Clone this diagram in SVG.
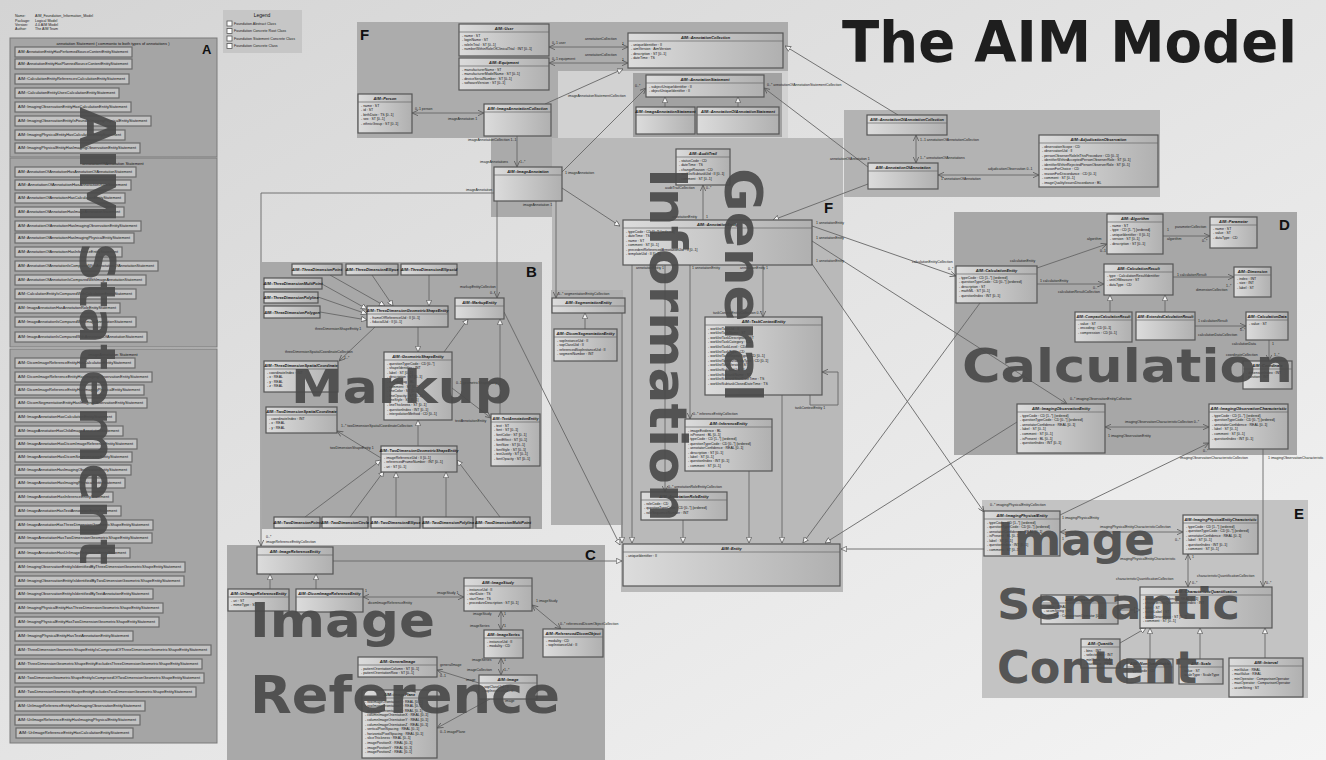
<svg xmlns="http://www.w3.org/2000/svg" width="1326" height="760" viewBox="0 0 1326 760">
<defs>
<linearGradient id="bgg" x1="0" y1="0" x2="1" y2="1"><stop offset="0" stop-color="#d4d4d4"/><stop offset="1" stop-color="#f4f4f4"/></linearGradient>
<linearGradient id="ng" x1="0" y1="0" x2="1" y2="0"><stop offset="0" stop-color="#dcdcdc"/><stop offset="1" stop-color="#b0b0b0"/></linearGradient>
<marker id="gen" viewBox="0 0 10 10" refX="10" refY="5" markerWidth="6" markerHeight="6" markerUnits="userSpaceOnUse" orient="auto-start-reverse"><path d="M0.5,0.5 L10,5 L0.5,9.5 Z" fill="#f4f4f4" stroke="#555" stroke-width="1.2"/></marker>
<marker id="arr" viewBox="0 0 10 10" refX="10" refY="5" markerWidth="6" markerHeight="6" markerUnits="userSpaceOnUse" orient="auto-start-reverse"><path d="M0,0.5 L10,5 L0,9.5" fill="none" stroke="#555" stroke-width="1.3"/></marker>
<style>
.hd{font-family:"Liberation Sans",Arial,sans-serif;font-size:3.6px;fill:#222}
.pk{stroke:#7a7a7a;stroke-width:1}
.n rect{fill:url(#ng);stroke:#555;stroke-width:1.2}
.n line{stroke:#666;stroke-width:0.7}
.nt{font-family:"Liberation Sans",Arial,sans-serif;font-size:3.9px;font-weight:bold;font-style:italic;text-anchor:middle;fill:#111}
.na{font-family:"Liberation Sans",Arial,sans-serif;font-size:3.5px;fill:#111}
.it rect{fill:#c3c3c3;stroke:#6a6a6a;stroke-width:1.2}
.it text{font-family:"Liberation Sans",Arial,sans-serif;font-size:3.5px;fill:#111}
.pt{font-family:"Liberation Sans",Arial,sans-serif;font-size:4px;fill:#111;text-anchor:middle}
.pl{font-family:"Liberation Sans",Arial,sans-serif;font-weight:bold;font-size:15px;fill:#111}
.c path{fill:none;stroke:#666;stroke-width:0.9}
.lb{font-family:"Liberation Sans",Arial,sans-serif;font-size:3.5px;fill:#222}
.big{font-family:"DejaVu Sans","Liberation Sans",sans-serif;font-weight:bold;fill:#4a4a4a;fill-opacity:0.92}
</style>
</defs>
<rect x="0" y="0" width="1326" height="760" fill="url(#bgg)"/>

<g id="header">
<text class="hd" x="15" y="17">Name:</text><text class="hd" x="35" y="17">AIM_Foundation_Information_Model</text>
<text class="hd" x="15" y="21.5">Package:</text><text class="hd" x="35" y="21.5">Logical Model</text>
<text class="hd" x="15" y="25.5">Version:</text><text class="hd" x="35" y="25.5">4.0 AIM Model</text>
<text class="hd" x="15" y="29.5">Author:</text><text class="hd" x="35" y="29.5">The AIM Team</text>
</g>

<g id="legend">
<rect x="223" y="10" width="79" height="43" fill="#c6c6c6"/>
<text class="pt" x="262" y="17" style="font-size:5px">Legend</text>
<rect x="227" y="21" width="5" height="5" fill="#fff" stroke="#555" stroke-width="0.8"/><text class="hd" x="234" y="24.5">Foundation Abstract Class</text>
<rect x="227" y="28.5" width="5" height="5" fill="#fff" stroke="#555" stroke-width="0.8"/><text class="hd" x="234" y="32">Foundation Concrete Root Class</text>
<rect x="227" y="36" width="5" height="5" fill="#fff" stroke="#555" stroke-width="0.8"/><text class="hd" x="234" y="39.5">Foundation Statement Concrete Class</text>
<rect x="227" y="43.5" width="5" height="5" fill="#fff" stroke="#555" stroke-width="0.8"/><text class="hd" x="234" y="47">Foundation Concrete Class</text>
</g>

<g id="packages">
<rect class="pk" x="10" y="38" width="207" height="119" fill="#a5a5a5" stroke-width="1.5"/>
<rect class="pk" x="10" y="158" width="207" height="189" fill="#a5a5a5" stroke-width="1.5"/>
<rect class="pk" x="10" y="349" width="207" height="394" fill="#a5a5a5" stroke-width="1.5"/>
<rect x="357" y="22" width="431" height="116" fill="#acacac"/>
<rect x="558" y="71" width="230" height="67" fill="#d2d2d2"/>
<rect x="633" y="73" width="149" height="64" fill="#a2a2a2"/>
<rect x="844" y="110" width="316" height="87" fill="#b3b3b3"/>
<path d="M552,138 H843 V592 H621 V525 H552 Z" fill="#b9b9b9"/>
<rect x="491" y="138" width="61" height="79" fill="#aaaaaa"/>
<rect x="551" y="290" width="72" height="235" fill="#b0b0b0"/>
<rect x="262" y="262" width="280" height="267" fill="#a8a8a8"/>
<rect x="227" y="545" width="378" height="215" fill="#a9a9a9"/>
<rect x="954" y="212" width="343" height="243" fill="#a7a7a7"/>
<rect x="982" y="500" width="326" height="198" fill="#c3c3c3"/>
</g>

<g id="package-labels">
<text class="pt" x="113" y="44.5">annotation Statement ( commonto to both types of annotations )</text>
<text class="pt" x="113" y="164.5">annotationOfAnnotation Statement</text>
<text class="pt" x="113" y="355.5">imageAnnotation Statement</text>
<text class="pl" x="202" y="54" style="font-size:13px">A</text>
<text class="pl" x="360" y="40">F</text>
<text class="pl" x="768" y="134" style="font-size:13px">A</text>
<text class="pl" x="824" y="213">F</text>
<text class="pl" x="526" y="277">B</text>
<text class="pl" x="585" y="560">C</text>
<text class="pl" x="1279" y="230">D</text>
<text class="pl" x="1294" y="519">E</text>
</g>

<g id="stmt-annotation" class="it">
<rect x="15" y="47" width="117" height="10"/><text x="18" y="53.3" textLength="110" lengthAdjust="spacingAndGlyphs">AIM::AnnotationEntityHasPerformedSourceContentEntityStatement</text>
<rect x="15" y="59" width="117" height="10"/><text x="18" y="65.3" textLength="110" lengthAdjust="spacingAndGlyphs">AIM::AnnotationEntityHasPlannedSourceContentEntityStatement</text>
<rect x="15" y="74" width="114" height="10"/><text x="18" y="80.3" textLength="107" lengthAdjust="spacingAndGlyphs">AIM::CalculationEntityReferencesCalculationEntityStatement</text>
<rect x="15" y="88" width="104" height="10"/><text x="18" y="94.3" textLength="97" lengthAdjust="spacingAndGlyphs">AIM::CalculationEntityUsesCalculationEntityStatement</text>
<rect x="15" y="102" width="116" height="10"/><text x="18" y="108.3" textLength="109" lengthAdjust="spacingAndGlyphs">AIM::ImagingObservationEntityHasCalculationEntityStatement</text>
<rect x="15" y="116" width="136" height="10"/><text x="18" y="122.3" textLength="129" lengthAdjust="spacingAndGlyphs">AIM::ImagingObservationEntityIsFoundInImagingPhysicalEntityStatement</text>
<rect x="15" y="130" width="110" height="10"/><text x="18" y="136.3" textLength="103" lengthAdjust="spacingAndGlyphs">AIM::ImagingPhysicalEntityHasCalculationEntityStatement</text>
<rect x="15" y="143" width="125" height="10"/><text x="18" y="149.3" textLength="118" lengthAdjust="spacingAndGlyphs">AIM::ImagingPhysicalEntityHasImagingObservationEntityStatement</text>
</g>

<g id="stmt-aoa" class="it">
<rect x="15" y="167" width="121" height="10"/><text x="18" y="173.3" textLength="114" lengthAdjust="spacingAndGlyphs">AIM::AnnotationOfAnnotationHasAnnotationOfAnnotationStatement</text>
<rect x="15" y="180" width="116" height="10"/><text x="18" y="186.3" textLength="109" lengthAdjust="spacingAndGlyphs">AIM::AnnotationOfAnnotationHasAnnotationRoleStatement</text>
<rect x="15" y="193" width="110" height="10"/><text x="18" y="199.3" textLength="103" lengthAdjust="spacingAndGlyphs">AIM::AnnotationOfAnnotationHasCalculationEntityStatement</text>
<rect x="15" y="207" width="109" height="10"/><text x="18" y="213.3" textLength="102" lengthAdjust="spacingAndGlyphs">AIM::AnnotationOfAnnotationHasImageAnnotationStatement</text>
<rect x="15" y="221" width="126" height="10"/><text x="18" y="227.3" textLength="119" lengthAdjust="spacingAndGlyphs">AIM::AnnotationOfAnnotationHasImagingObservationEntityStatement</text>
<rect x="15" y="233" width="119" height="10"/><text x="18" y="239.3" textLength="112" lengthAdjust="spacingAndGlyphs">AIM::AnnotationOfAnnotationHasImagingPhysicalEntityStatement</text>
<rect x="15" y="247" width="107" height="10"/><text x="18" y="253.3" textLength="100" lengthAdjust="spacingAndGlyphs">AIM::AnnotationOfAnnotationHasInferenceEntityStatement</text>
<rect x="15" y="261" width="143" height="10"/><text x="18" y="267.3" textLength="136" lengthAdjust="spacingAndGlyphs">AIM::AnnotationOfAnnotationIsComparedWithAnnotationOfAnnotationStatement</text>
<rect x="15" y="275" width="131" height="10"/><text x="18" y="281.3" textLength="124" lengthAdjust="spacingAndGlyphs">AIM::AnnotationOfAnnotationIsComparedWithImageAnnotationStatement</text>
<rect x="15" y="289" width="121" height="10"/><text x="18" y="295.3" textLength="114" lengthAdjust="spacingAndGlyphs">AIM::CalculationEntityIsComparedWithCalculationEntityStatement</text>
<rect x="15" y="303" width="105" height="10"/><text x="18" y="309.3" textLength="98" lengthAdjust="spacingAndGlyphs">AIM::ImageAnnotationHasAnnotationRoleEntityStatement</text>
<rect x="15" y="317" width="121" height="10"/><text x="18" y="323.3" textLength="114" lengthAdjust="spacingAndGlyphs">AIM::ImageAnnotationIsComparedWithImageAnnotationStatement</text>
<rect x="15" y="332" width="132" height="10"/><text x="18" y="338.3" textLength="125" lengthAdjust="spacingAndGlyphs">AIM::ImageAnnotationIsComparedWithAnnotationOfAnnotationStatement</text>
</g>

<g id="stmt-image" class="it">
<rect x="15" y="358" width="120" height="10"/><text x="18" y="364.3" textLength="113" lengthAdjust="spacingAndGlyphs">AIM::DicomImageReferenceEntityHasCalculationEntityStatement</text>
<rect x="15" y="372" width="137" height="10"/><text x="18" y="378.3" textLength="130" lengthAdjust="spacingAndGlyphs">AIM::DicomImageReferenceEntityHasImagingObservationEntityStatement</text>
<rect x="15" y="385" width="129" height="10"/><text x="18" y="391.3" textLength="122" lengthAdjust="spacingAndGlyphs">AIM::DicomImageReferenceEntityHasImagingPhysicalEntityStatement</text>
<rect x="15" y="398" width="132" height="10"/><text x="18" y="404.3" textLength="125" lengthAdjust="spacingAndGlyphs">AIM::DicomSegmentationEntityHasImagingObservationEntityStatement</text>
<rect x="15" y="412" width="101" height="10"/><text x="18" y="418.3" textLength="94" lengthAdjust="spacingAndGlyphs">AIM::ImageAnnotationHasCalculationEntityStatement</text>
<rect x="15" y="426" width="108" height="10"/><text x="18" y="432.3" textLength="101" lengthAdjust="spacingAndGlyphs">AIM::ImageAnnotationHasChildImageAnnotationStatement</text>
<rect x="15" y="439" width="122" height="10"/><text x="18" y="445.3" textLength="115" lengthAdjust="spacingAndGlyphs">AIM::ImageAnnotationHasDicomImageReferenceEntityStatement</text>
<rect x="15" y="452" width="117" height="10"/><text x="18" y="458.3" textLength="110" lengthAdjust="spacingAndGlyphs">AIM::ImageAnnotationHasDicomSegmentationEntityStatement</text>
<rect x="15" y="465" width="116" height="10"/><text x="18" y="471.3" textLength="109" lengthAdjust="spacingAndGlyphs">AIM::ImageAnnotationHasImagingObservationEntityStatement</text>
<rect x="15" y="478" width="110" height="10"/><text x="18" y="484.3" textLength="103" lengthAdjust="spacingAndGlyphs">AIM::ImageAnnotationHasImagingPhysicalEntityStatement</text>
<rect x="15" y="492" width="98" height="10"/><text x="18" y="498.3" textLength="91" lengthAdjust="spacingAndGlyphs">AIM::ImageAnnotationHasInferenceEntityStatement</text>
<rect x="15" y="506" width="106" height="10"/><text x="18" y="512.3" textLength="99" lengthAdjust="spacingAndGlyphs">AIM::ImageAnnotationHasTextAnnotationEntityStatement</text>
<rect x="15" y="520" width="138" height="10"/><text x="18" y="526.3" textLength="131" lengthAdjust="spacingAndGlyphs">AIM::ImageAnnotationHasThreeDimensionGeometricShapeEntityStatement</text>
<rect x="15" y="533" width="137" height="10"/><text x="18" y="539.3" textLength="130" lengthAdjust="spacingAndGlyphs">AIM::ImageAnnotationHasTwoDimensionGeometricShapeEntityStatement</text>
<rect x="15" y="548" width="115" height="10"/><text x="18" y="554.3" textLength="108" lengthAdjust="spacingAndGlyphs">AIM::ImageAnnotationHasUriImageReferenceEntityStatement</text>
<rect x="15" y="562" width="170" height="10"/><text x="18" y="568.3" textLength="163" lengthAdjust="spacingAndGlyphs">AIM::ImagingObservationEntityIsIdentifiedByThreeDimensionGeometricShapeEntityStatement</text>
<rect x="15" y="576" width="169" height="10"/><text x="18" y="582.3" textLength="162" lengthAdjust="spacingAndGlyphs">AIM::ImagingObservationEntityIsIdentifiedByTwoDimensionGeometricShapeEntityStatement</text>
<rect x="15" y="589" width="138" height="10"/><text x="18" y="595.3" textLength="131" lengthAdjust="spacingAndGlyphs">AIM::ImagingObservationEntityIsIdentifiedByTextAnnotationEntityStatement</text>
<rect x="15" y="603" width="148" height="10"/><text x="18" y="609.3" textLength="141" lengthAdjust="spacingAndGlyphs">AIM::ImagingPhysicalEntityHasThreeDimensionGeometricShapeEntityStatement</text>
<rect x="15" y="617" width="144" height="10"/><text x="18" y="623.3" textLength="137" lengthAdjust="spacingAndGlyphs">AIM::ImagingPhysicalEntityHasTwoDimensionGeometricShapeEntityStatement</text>
<rect x="15" y="631" width="118" height="10"/><text x="18" y="637.3" textLength="111" lengthAdjust="spacingAndGlyphs">AIM::ImagingPhysicalEntityHasTextAnnotationEntityStatement</text>
<rect x="15" y="645" width="196" height="10"/><text x="18" y="651.3" textLength="189" lengthAdjust="spacingAndGlyphs">AIM::ThreeDimensionGeometricShapeEntityIsComprisedOfThreeDimensionGeometricShapeEntityStatement</text>
<rect x="15" y="659" width="187" height="10"/><text x="18" y="665.3" textLength="180" lengthAdjust="spacingAndGlyphs">AIM::ThreeDimensionGeometricShapeEntityExcludesThreeDimensionGeometricShapeEntityStatement</text>
<rect x="15" y="673" width="189" height="10"/><text x="18" y="679.3" textLength="182" lengthAdjust="spacingAndGlyphs">AIM::TwoDimensionGeometricShapeEntityIsComprisedOfTwoDimensionGeometricShapeEntityStatement</text>
<rect x="15" y="687" width="181" height="10"/><text x="18" y="693.3" textLength="174" lengthAdjust="spacingAndGlyphs">AIM::TwoDimensionGeometricShapeEntityExcludesTwoDimensionGeometricShapeEntityStatement</text>
<rect x="15" y="701" width="130" height="10"/><text x="18" y="707.3" textLength="123" lengthAdjust="spacingAndGlyphs">AIM::UriImageReferenceEntityHasImagingObservationEntityStatement</text>
<rect x="15" y="715" width="125" height="10"/><text x="18" y="721.3" textLength="118" lengthAdjust="spacingAndGlyphs">AIM::UriImageReferenceEntityHasImagingPhysicalEntityStatement</text>
<rect x="16" y="728" width="117" height="10"/><text x="19" y="734.3" textLength="110" lengthAdjust="spacingAndGlyphs">AIM::UriImageReferenceEntityHasCalculationEntityStatement</text>
</g>

<g id="connectors" class="c">
<path d="M549,47 H628" marker-start="url(#arr)" marker-end="url(#arr)"/>
<path d="M549,63 H628" marker-start="url(#arr)" marker-end="url(#arr)"/>
<path d="M412,113 H484" marker-start="url(#arr)" marker-end="url(#arr)"/>
<path d="M545,104 L623,69" marker-end="url(#gen)"/>
<path d="M898,115 L785,46" marker-end="url(#gen)"/>
<path d="M517,136 V167" marker-end="url(#arr)"/>
<path d="M562,172 L646,88" marker-end="url(#arr)"/>
<path d="M868,167 L764,88" marker-end="url(#arr)"/>
<path d="M665,107 V97" marker-end="url(#gen)"/>
<path d="M738,107 V97" marker-end="url(#gen)"/>
<path d="M916,135 V163" marker-start="url(#arr)" marker-end="url(#arr)"/>
<path d="M938,175 H1039" marker-start="url(#arr)" marker-end="url(#arr)"/>
<path d="M868,184 L773,220" marker-end="url(#gen)"/>
<path d="M562,188 L620,226" marker-end="url(#gen)"/>
<path d="M494,193 H261 V546" marker-end="url(#arr)"/>
<path d="M497,201 V298" marker-end="url(#arr)"/>
<path d="M556,201 V298" marker-end="url(#arr)"/>
<path d="M585,329 V313" marker-end="url(#gen)"/>
<path d="M622,313 V543" marker-end="url(#gen)"/>
<path d="M632,265 V543" marker-end="url(#gen)"/>
<path d="M703,220 V185" marker-end="url(#arr)"/>
<path d="M665,265 V492" marker-end="url(#arr)"/>
<path d="M690,265 V419" marker-end="url(#arr)"/>
<path d="M763,265 V317" marker-end="url(#arr)"/>
<path d="M810,395 V405 H838 V372 H822" marker-end="url(#arr)"/>
<path d="M683,520 V543" marker-end="url(#gen)"/>
<path d="M749,471 V543" marker-end="url(#gen)"/>
<path d="M782,395 V543" marker-end="url(#gen)"/>
<path d="M980,303 L803,543" marker-end="url(#gen)"/>
<path d="M1017,422 L825,543" marker-end="url(#gen)"/>
<path d="M504,312 L620,545" marker-end="url(#gen)"/>
<path d="M333,561 H622" marker-end="url(#gen)"/>
<path d="M984,549 H841" marker-end="url(#gen)"/>
<path d="M812,226 L956,276" marker-end="url(#arr)"/>
<path d="M812,241 L1067,404" marker-end="url(#arr)"/>
<path d="M812,264 L984,512" marker-end="url(#arr)"/>
<path d="M330,275 L385,306" marker-end="url(#gen)"/>
<path d="M372,275 L393,306" marker-end="url(#gen)"/>
<path d="M429,275 V306" marker-end="url(#gen)"/>
<path d="M322,284 L367,309" marker-end="url(#gen)"/>
<path d="M318,297 L367,314" marker-end="url(#gen)"/>
<path d="M320,312 L367,320" marker-end="url(#gen)"/>
<path d="M418,327 V352" marker-end="url(#gen)"/>
<path d="M444,352 L468,319" marker-end="url(#gen)"/>
<path d="M500,414 V319" marker-end="url(#gen)"/>
<path d="M418,446 V420" marker-end="url(#gen)"/>
<path d="M375,327 L339,361" marker-end="url(#arr)"/>
<path d="M381,458 L337,431" marker-end="url(#arr)"/>
<path d="M452,388 L491,418" marker-end="url(#arr)"/>
<path d="M305,517 L381,460" marker-end="url(#gen)"/>
<path d="M350,517 L384,471" marker-end="url(#gen)"/>
<path d="M396,517 V472" marker-end="url(#gen)"/>
<path d="M446,517 V472" marker-end="url(#gen)"/>
<path d="M500,517 L457,460" marker-end="url(#gen)"/>
<path d="M270,589 V574" marker-end="url(#gen)"/>
<path d="M316,589 V574" marker-end="url(#gen)"/>
<path d="M363,597 H464" marker-start="url(#arr)" marker-end="url(#arr)"/>
<path d="M501,611 V630" marker-start="url(#arr)" marker-end="url(#arr)"/>
<path d="M532,605 L561,629" marker-start="url(#arr)" marker-end="url(#arr)"/>
<path d="M501,658 V675" marker-start="url(#arr)" marker-end="url(#arr)"/>
<path d="M479,683 L437,670" marker-end="url(#arr)"/>
<path d="M490,699 L437,728" marker-end="url(#arr)"/>
<path d="M1037,268 L1107,244" marker-end="url(#arr)"/>
<path d="M1163,236 H1210" marker-end="url(#arr)"/>
<path d="M1037,284 H1104" marker-end="url(#arr)"/>
<path d="M1173,277 H1234" marker-end="url(#arr)"/>
<path d="M1110,312 V295" marker-end="url(#gen)"/>
<path d="M1165,312 V295" marker-end="url(#gen)"/>
<path d="M1195,326 H1246" marker-end="url(#arr)"/>
<path d="M1269,340 V361" marker-end="url(#arr)"/>
<path d="M1105,427 H1209" marker-start="url(#arr)" marker-end="url(#arr)"/>
<path d="M1060,515 L1209,443" marker-end="url(#arr)"/>
<path d="M1263,449 V587" marker-end="url(#arr)"/>
<path d="M1188,554 V587" marker-start="url(#arr)" marker-end="url(#arr)"/>
<path d="M1060,532 H1183" marker-start="url(#arr)" marker-end="url(#arr)"/>
<path d="M1118,610 H1140" marker-end="url(#gen)"/>
<path d="M1120,643 L1146,628" marker-end="url(#gen)"/>
<path d="M1150,659 V628" marker-end="url(#gen)"/>
<path d="M1200,659 V628" marker-end="url(#gen)"/>
<path d="M1265,658 V628" marker-end="url(#gen)"/>
</g>

<g id="connector-labels">
<text class="lb" x="552" y="44">0..1 user</text><text class="lb" x="585" y="40">annotationCollection</text><text class="lb" x="622" y="45">1</text>
<text class="lb" x="552" y="60">0..1 equipment</text><text class="lb" x="585" y="56">annotationCollection</text><text class="lb" x="622" y="61">1</text>
<text class="lb" x="415" y="110">0..1 person</text><text class="lb" x="448" y="120">imageAnnotation 1</text>
<text class="lb" x="468" y="141">imageAnnotationCollection 1..1</text>
<text class="lb" x="480" y="163">imageAnnotations</text><text class="lb" x="520" y="163">1..*</text>
<text class="lb" x="568" y="97">imageAnnotationStatementCollection</text><text class="lb" x="635" y="87">0..*</text>
<text class="lb" x="565" y="174">1 imageAnnotation</text>
<text class="lb" x="767" y="86">0..* annotationOfAnnotationStatementCollection</text>
<text class="lb" x="830" y="160">annotationOfAnnotation 1</text>
<text class="lb" x="920" y="141">1..1  annotationOfAnnotationCollection</text>
<text class="lb" x="920" y="159">1..*  annotationOfAnnotations</text>
<text class="lb" x="988" y="170">adjudicationObservation 0..1</text>
<text class="lb" x="941" y="180">1 annotationOfAnnotation</text>
<text class="lb" x="466" y="191">imageAnnotation</text>
<text class="lb" x="266" y="538">0..*</text><text class="lb" x="266" y="543">imageReferenceEntityCollection</text>
<text class="lb" x="460" y="288">markupEntityCollection</text><text class="lb" x="490" y="294">0..*</text>
<text class="lb" x="523" y="206">imageAnnotation 1</text>
<text class="lb" x="558" y="295">0..*  segmentationEntityCollection</text>
<text class="lb" x="665" y="189">auditTrailCollection</text><text class="lb" x="706" y="189">0..*</text>
<text class="lb" x="672" y="218">annotationEntity</text><text class="lb" x="706" y="218">1</text>
<text class="lb" x="636" y="269">annotationEntity 1</text>
<text class="lb" x="692" y="269">1 annotationEntity</text>
<text class="lb" x="740" y="269">annotationEntity 1</text>
<text class="lb" x="668" y="488">0..*  annotationRoleEntityCollection</text>
<text class="lb" x="693" y="415">0..*  inferenceEntityCollection</text>
<text class="lb" x="713" y="314">taskContextEntityCollection 0..*</text>
<text class="lb" x="795" y="409">taskContextEntity 1</text>
<text class="lb" x="816" y="224">1  annotationEntity</text>
<text class="lb" x="816" y="239">1  annotationEntity</text>
<text class="lb" x="816" y="262">1  annotationEntity</text>
<text class="lb" x="912" y="263">calculationEntityCollection</text><text class="lb" x="948" y="270">0..*</text>
<text class="lb" x="1070" y="400">0..*  imagingObservationEntityCollection</text>
<text class="lb" x="990" y="506">0..*  imagingPhysicalEntityCollection</text>
<text class="lb" x="315" y="330">threeDimensionShapeEntity 1</text>
<text class="lb" x="285" y="353">threeDimensionSpatialCoordinateCollection</text><text class="lb" x="344" y="359">1..*</text>
<text class="lb" x="341" y="427">1..*  twoDimensionSpatialCoordinateCollection</text>
<text class="lb" x="330" y="449">twoDimensionShapeEntity 1</text>
<text class="lb" x="456" y="384">0..1 geometricShapeEntity</text>
<text class="lb" x="455" y="422">textAnnotationEntity</text>
<text class="lb" x="365" y="592">1</text><text class="lb" x="368" y="604">dicomImageReferenceEntity</text><text class="lb" x="437" y="594">imageStudy 1</text>
<text class="lb" x="473" y="615">imageStudy</text><text class="lb" x="504" y="615">1</text>
<text class="lb" x="470" y="627">imageSeries</text><text class="lb" x="504" y="627">1</text>
<text class="lb" x="536" y="602">1 imageStudy</text><text class="lb" x="560" y="625">0..*  referencedDicomObjectCollection</text>
<text class="lb" x="472" y="661">imageSeries</text><text class="lb" x="504" y="661">1</text>
<text class="lb" x="467" y="671">imageCollection</text><text class="lb" x="504" y="671">1..*</text>
<text class="lb" x="440" y="666">generalImage</text><text class="lb" x="440" y="677">0..1</text><text class="lb" x="466" y="681">image</text>
<text class="lb" x="440" y="733">0..1  imagePlane</text><text class="lb" x="505" y="702">image</text>
<text class="lb" x="1010" y="262">calculationEntity</text><text class="lb" x="1087" y="240">algorithm</text><text class="lb" x="1100" y="252">0..1</text>
<text class="lb" x="1167" y="231">1</text><text class="lb" x="1175" y="228">parameterCollection</text><text class="lb" x="1167" y="240">algorithm</text><text class="lb" x="1202" y="242">0..*</text>
<text class="lb" x="1040" y="282">1  calculationEntity</text><text class="lb" x="1093" y="289">0..*</text><text class="lb" x="1058" y="293">calculationResultCollection</text>
<text class="lb" x="1177" y="276">1  calculationResult</text><text class="lb" x="1226" y="287">1..*</text><text class="lb" x="1196" y="291">dimensionCollection</text>
<text class="lb" x="1198" y="322">1  calculationResult</text><text class="lb" x="1240" y="331">0..*</text><text class="lb" x="1198" y="336">calculationDataCollection</text>
<text class="lb" x="1232" y="345">calculationData</text><text class="lb" x="1272" y="345">1</text>
<text class="lb" x="1226" y="356">coordinateCollection</text><text class="lb" x="1274" y="356">1..*</text>
<text class="lb" x="1125" y="423">imagingObservationCharacteristicCollection 0..*</text>
<text class="lb" x="1108" y="437">1  imagingObservationEntity</text>
<text class="lb" x="1180" y="459">imagingObservationCharacteristicCollection</text><text class="lb" x="1203" y="452">0..*</text>
<text class="lb" x="1268" y="459">1  imagingObservationCharacteristic</text>
<text class="lb" x="1062" y="519">1  imagingPhysicalEntity</text>
<text class="lb" x="1100" y="528">imagingPhysicalEntityCharacteristicCollection</text><text class="lb" x="1175" y="541">0..*</text>
<text class="lb" x="1062" y="540">1</text>
<text class="lb" x="1120" y="560">imagingPhysicalEntityCharacteristic</text><text class="lb" x="1192" y="558">1</text>
<text class="lb" x="1116" y="580">characteristicQuantificationCollection</text><text class="lb" x="1192" y="584">0..*</text>
<text class="lb" x="1197" y="577">characteristicQuantificationCollection</text><text class="lb" x="1266" y="584">0..*</text>
</g>

<g id="n-user" class="n"><rect x="459" y="24" width="90" height="32"/><line x1="459" y1="32" x2="549" y2="32"/><text class="nt" x="504" y="29.5">AIM::User</text><text class="na"><tspan x="462" y="36.5">-  name : ST</tspan><tspan x="462" y="41">-  loginName : ST</tspan><tspan x="462" y="45.5">-  roleInTrial : ST [0..1]</tspan><tspan x="462" y="50">-  numberWithinRoleOfClinicalTrial : INT [0..1]</tspan></text></g>
<g id="n-equipment" class="n"><rect x="459" y="58" width="90" height="32"/><line x1="459" y1="66" x2="549" y2="66"/><text class="nt" x="504" y="63.5">AIM::Equipment</text><text class="na"><tspan x="462" y="70.5">-  manufacturerName : ST</tspan><tspan x="462" y="75">-  manufacturerModelName : ST [0..1]</tspan><tspan x="462" y="79.5">-  deviceSerialNumber : ST [0..1]</tspan><tspan x="462" y="84">-  softwareVersion : ST [0..1]</tspan></text></g>
<g id="n-person" class="n"><rect x="358" y="94" width="54" height="39"/><line x1="358" y1="102" x2="412" y2="102"/><text class="nt" x="385" y="99.5">AIM::Person</text><text class="na"><tspan x="361" y="106.5">-  name : ST</tspan><tspan x="361" y="111">-  id : ST</tspan><tspan x="361" y="115.5">-  birthDate : TS [0..1]</tspan><tspan x="361" y="120">-  sex : ST [0..1]</tspan><tspan x="361" y="124.5">-  ethnicGroup : ST [0..1]</tspan></text></g>
<g id="n-imageannotationcollection" class="n"><rect x="484" y="104" width="67" height="32"/><line x1="484" y1="112" x2="551" y2="112"/><text class="nt" x="517.5" y="109.5">AIM::ImageAnnotationCollection</text></g>
<g id="n-annotationcollection" class="n"><rect x="628" y="33" width="155" height="35"/><line x1="628" y1="41" x2="783" y2="41"/><text class="nt" x="705.5" y="38.5">AIM::AnnotationCollection</text><text class="na"><tspan x="631" y="45.5">-  uniqueIdentifier : II</tspan><tspan x="631" y="50">-  aimVersion : AimVersion</tspan><tspan x="631" y="54.5">-  description : ST [0..1]</tspan><tspan x="631" y="59">-  dateTime : TS</tspan></text></g>
<g id="n-annotationstatement" class="n"><rect x="646" y="75" width="118" height="22"/><line x1="646" y1="83" x2="764" y2="83"/><text class="nt" x="705" y="80.5">AIM::AnnotationStatement</text><text class="na"><tspan x="649" y="87.5">-  subjectUniqueIdentifier : II</tspan><tspan x="649" y="92">-  objectUniqueIdentifier : II</tspan></text></g>
<g id="n-imageannotationstatement" class="n"><rect x="636" y="107" width="59" height="27"/><line x1="636" y1="115" x2="695" y2="115"/><text class="nt" x="665.5" y="112.5">AIM::ImageAnnotationStatement</text></g>
<g id="n-aoastatement" class="n"><rect x="697" y="107" width="82" height="27"/><line x1="697" y1="115" x2="779" y2="115"/><text class="nt" x="738" y="112.5">AIM::AnnotationOfAnnotationStatement</text></g>

<g id="n-aoacollection" class="n"><rect x="867" y="115" width="80" height="20"/><line x1="867" y1="123" x2="947" y2="123"/><text class="nt" x="907" y="120.5">AIM::AnnotationOfAnnotationCollection</text></g>
<g id="n-aoa" class="n"><rect x="868" y="163" width="70" height="26"/><line x1="868" y1="171" x2="938" y2="171"/><text class="nt" x="903" y="168.5">AIM::AnnotationOfAnnotation</text></g>
<g id="n-adjudication" class="n"><rect x="1039" y="135" width="119" height="52"/><line x1="1039" y1="143" x2="1158" y2="143"/><text class="nt" x="1098.5" y="140.5">AIM::AdjudicationObservation</text><text class="na"><tspan x="1042" y="147.5">-  observationScope : CD</tspan><tspan x="1042" y="152">-  observationUid : II</tspan><tspan x="1042" y="156.5">-  personObserverRoleInThisProcedure : CD [0..1]</tspan><tspan x="1042" y="161">-  identifierWithinAcceptedPersonObserverRole : ST [0..1]</tspan><tspan x="1042" y="165.5">-  identifierWithinRejectedPersonObserverRole : ST [0..1]</tspan><tspan x="1042" y="170">-  reasonForChoice : CD</tspan><tspan x="1042" y="174.5">-  reasonForDiscordance : CD [0..1]</tspan><tspan x="1042" y="179">-  comment : ST [0..1]</tspan><tspan x="1042" y="183.5">-  imageQualityIssuesDiscordance : BL</tspan></text></g>

<g id="n-imageannotation" class="n"><rect x="494" y="167" width="68" height="34"/><line x1="494" y1="175" x2="562" y2="175"/><text class="nt" x="528" y="172.5">AIM::ImageAnnotation</text></g>
<g id="n-audittrail" class="n"><rect x="676" y="149" width="54" height="36"/><line x1="676" y1="157" x2="730" y2="157"/><text class="nt" x="703" y="154.5">AIM::AuditTrail</text><text class="na"><tspan x="679" y="161.5">-  statusCode : CD</tspan><tspan x="679" y="166">-  dateTime : TS</tspan><tspan x="679" y="170.5">-  changeReason : CD</tspan><tspan x="679" y="175">-  worklistSubtaskUid : II [0..1]</tspan><tspan x="679" y="179.5">-  comment : ST [0..1]</tspan></text></g>
<g id="n-annotationentity" class="n"><rect x="623" y="220" width="189" height="45"/><line x1="623" y1="228" x2="812" y2="228"/><text class="nt" x="717.5" y="225.5">AIM::AnnotationEntity</text><text class="na"><tspan x="626" y="232.5">-  typeCode : CD [1..*] {ordered}</tspan><tspan x="626" y="237">-  dateTime : TS</tspan><tspan x="626" y="241.5">-  name : ST</tspan><tspan x="626" y="246">-  comment : ST [0..1]</tspan><tspan x="626" y="250.5">-  precedentReferencedAnnotationUid : II [0..1]</tspan><tspan x="626" y="255">-  templateUid : II [0..1]</tspan></text></g>
<g id="n-segmentationentity" class="n"><rect x="552" y="298" width="73" height="15"/><line x1="552" y1="306" x2="625" y2="306"/><text class="nt" x="588.5" y="303.5">AIM::SegmentationEntity</text></g>
<g id="n-dicomsegmentationentity" class="n"><rect x="554" y="329" width="63" height="32"/><line x1="554" y1="337" x2="617" y2="337"/><text class="nt" x="585.5" y="334.5">AIM::DicomSegmentationEntity</text><text class="na"><tspan x="557" y="341.5">-  sopInstanceUid : II</tspan><tspan x="557" y="346">-  sopClassUid : II</tspan><tspan x="557" y="350.5">-  referencedSopInstanceUid : II</tspan><tspan x="557" y="355">-  segmentNumber : INT</tspan></text></g>
<g id="n-taskcontextentity" class="n"><rect x="705" y="317" width="117" height="78"/><line x1="705" y1="325" x2="822" y2="325"/><text class="nt" x="763.5" y="322.5">AIM::TaskContextEntity</text><text class="na"><tspan x="708" y="329.5">-  worklistTaskUid : II</tspan><tspan x="708" y="334.1">-  worklistTaskName : ST</tspan><tspan x="708" y="338.7">-  worklistTaskDescription : ST</tspan><tspan x="708" y="343.3">-  worklistTaskCategory : CD</tspan><tspan x="708" y="347.9">-  worklistTaskLevel : CD</tspan><tspan x="708" y="352.5">-  worklistTaskType : CD</tspan><tspan x="708" y="357.1">-  worklistTaskRepeatType : CD [0..1]</tspan><tspan x="708" y="361.7">-  worklistTaskVariabilityType : CD [0..1]</tspan><tspan x="708" y="366.3">-  worklistTaskVersion : ST</tspan><tspan x="708" y="370.9">-  worklistSubtaskUid : II</tspan><tspan x="708" y="375.5">-  worklistSubtaskName : ST</tspan><tspan x="708" y="380.1">-  worklistSubtaskStartDateTime : TS</tspan><tspan x="708" y="384.7">-  worklistSubtaskClosedDateTime : TS</tspan></text></g>
<g id="n-inferenceentity" class="n"><rect x="685" y="419" width="87" height="52"/><line x1="685" y1="427" x2="772" y2="427"/><text class="nt" x="728.5" y="424.5">AIM::InferenceEntity</text><text class="na"><tspan x="688" y="431.5">-  imageEvidence : BL</tspan><tspan x="688" y="435.9">-  isPresent : BL [0..1]</tspan><tspan x="688" y="440.3">-  typeCode : CD [1..*] {ordered}</tspan><tspan x="688" y="444.7">-  questionTypeCode : CD [0..*] {ordered}</tspan><tspan x="688" y="449.1">-  annotatorConfidence : REAL [0..1]</tspan><tspan x="688" y="453.5">-  description : ST [0..1]</tspan><tspan x="688" y="457.9">-  label : ST [0..1]</tspan><tspan x="688" y="462.3">-  questionIndex : INT [0..1]</tspan><tspan x="688" y="466.7">-  comment : ST [0..1]</tspan></text></g>
<g id="n-annotationroleentity" class="n"><rect x="641" y="492" width="86" height="28"/><line x1="641" y1="500" x2="727" y2="500"/><text class="nt" x="684" y="497.5">AIM::AnnotationRoleEntity</text><text class="na"><tspan x="644" y="504.5">-  roleCode : CD</tspan><tspan x="644" y="509">-  questionTypeCode : CD [0..*] {ordered}</tspan><tspan x="644" y="513.5">-  roleSequenceNumber : INT</tspan></text></g>
<g id="n-entity" class="n"><rect x="623" y="544" width="217" height="42"/><line x1="623" y1="552" x2="840" y2="552"/><text class="nt" x="731.5" y="549.5">AIM::Entity</text><text class="na"><tspan x="626" y="556.5">-  uniqueIdentifier : II</tspan></text></g>

<g id="n-3dpoint" class="n"><rect x="292" y="264" width="50" height="11"/><text class="nt" x="317" y="271">AIM::ThreeDimensionPoint</text></g>
<g id="n-3dellipse" class="n"><rect x="346" y="264" width="52" height="11"/><text class="nt" x="372" y="271">AIM::ThreeDimensionEllipse</text></g>
<g id="n-3dellipsoid" class="n"><rect x="401" y="264" width="56" height="11"/><text class="nt" x="429" y="271">AIM::ThreeDimensionEllipsoid</text></g>
<g id="n-3dmultipoint" class="n"><rect x="264" y="278" width="58" height="11"/><text class="nt" x="293" y="285">AIM::ThreeDimensionMultiPoint</text></g>
<g id="n-3dpolyline" class="n"><rect x="264" y="292" width="54" height="11"/><text class="nt" x="291" y="299">AIM::ThreeDimensionPolyline</text></g>
<g id="n-3dpolygon" class="n"><rect x="264" y="306" width="56" height="12"/><text class="nt" x="292" y="313.5">AIM::ThreeDimensionPolygon</text></g>
<g id="n-3dgeoshape" class="n"><rect x="367" y="306" width="81" height="21"/><line x1="367" y1="314" x2="448" y2="314"/><text class="nt" x="407.5" y="311.5">AIM::ThreeDimensionGeometricShapeEntity</text><text class="na"><tspan x="370" y="318.5">-  frameOfReferenceUid : II [0..1]</tspan><tspan x="370" y="323">-  fiducialUid : II [0..1]</tspan></text></g>
<g id="n-markupentity" class="n"><rect x="455" y="298" width="49" height="21"/><line x1="455" y1="306" x2="504" y2="306"/><text class="nt" x="479.5" y="303.5">AIM::MarkupEntity</text></g>
<g id="n-3dspatialcoord" class="n"><rect x="264" y="361" width="74" height="31"/><line x1="264" y1="369" x2="338" y2="369"/><text class="nt" x="301" y="366.5">AIM::ThreeDimensionSpatialCoordinate</text><text class="na"><tspan x="267" y="373.5">-  coordinateIndex : INT</tspan><tspan x="267" y="378">-  x : REAL</tspan><tspan x="267" y="382.5">-  y : REAL</tspan><tspan x="267" y="387">-  z : REAL</tspan></text></g>
<g id="n-geoshape" class="n"><rect x="384" y="352" width="68" height="68"/><line x1="384" y1="360" x2="452" y2="360"/><text class="nt" x="418" y="357.5">AIM::GeometricShapeEntity</text><text class="na"><tspan x="387" y="364.5">-  questionTypeCode : CD [0..*]</tspan><tspan x="387" y="369.1">-  shapeIdentifier : INT</tspan><tspan x="387" y="373.7">-  label : ST [0..1]</tspan><tspan x="387" y="378.3">-  description : ST [0..1]</tspan><tspan x="387" y="382.9">-  includeFlag : BL</tspan><tspan x="387" y="387.5">-  comment : ST [0..1]</tspan><tspan x="387" y="392.1">-  lineColor : ST [0..1]</tspan><tspan x="387" y="396.7">-  lineOpacity : ST [0..1]</tspan><tspan x="387" y="401.3">-  lineStyle : ST [0..1]</tspan><tspan x="387" y="405.9">-  lineThickness : ST [0..1]</tspan><tspan x="387" y="410.5">-  questionIndex : INT [0..1]</tspan><tspan x="387" y="415.1">-  interpolationMethod : CD [0..1]</tspan></text></g>
<g id="n-2dspatialcoord" class="n"><rect x="266" y="407" width="71" height="26"/><line x1="266" y1="415" x2="337" y2="415"/><text class="nt" x="301.5" y="412.5">AIM::TwoDimensionSpatialCoordinate</text><text class="na"><tspan x="269" y="419.5">-  coordinateIndex : INT</tspan><tspan x="269" y="424">-  x : REAL</tspan><tspan x="269" y="428.5">-  y : REAL</tspan></text></g>
<g id="n-textannotation" class="n"><rect x="491" y="414" width="49" height="52"/><line x1="491" y1="422" x2="540" y2="422"/><text class="nt" x="515.5" y="419.5" textLength="46" lengthAdjust="spacingAndGlyphs">AIM::TextAnnotationEntity</text><text class="na"><tspan x="494" y="426.5">-  text : ST</tspan><tspan x="494" y="431.3">-  font : ST [0..1]</tspan><tspan x="494" y="436.1">-  fontColor : ST [0..1]</tspan><tspan x="494" y="440.9">-  fontEffect : ST [0..1]</tspan><tspan x="494" y="445.7">-  fontSize : ST [0..1]</tspan><tspan x="494" y="450.5">-  fontStyle : ST [0..1]</tspan><tspan x="494" y="455.3">-  textJustify : ST [0..1]</tspan><tspan x="494" y="460.1">-  fontOpacity : ST [0..1]</tspan></text></g>
<g id="n-2dgeoshape" class="n"><rect x="381" y="446" width="76" height="26"/><line x1="381" y1="454" x2="457" y2="454"/><text class="nt" x="419" y="451.5">AIM::TwoDimensionGeometricShapeEntity</text><text class="na"><tspan x="384" y="458.5">-  imageReferenceUid : II [0..1]</tspan><tspan x="384" y="463">-  referencedFrameNumber : INT [0..1]</tspan><tspan x="384" y="467.5">-  uri : ST [0..1]</tspan></text></g>
<g id="n-2dpoint" class="n"><rect x="274" y="517" width="46" height="11"/><text class="nt" x="297" y="524">AIM::TwoDimensionPoint</text></g>
<g id="n-2dcircle" class="n"><rect x="322" y="517" width="46" height="11"/><text class="nt" x="345" y="524">AIM::TwoDimensionCircle</text></g>
<g id="n-2dellipse" class="n"><rect x="371" y="517" width="49" height="11"/><text class="nt" x="395.5" y="524">AIM::TwoDimensionEllipse</text></g>
<g id="n-2dpolyline" class="n"><rect x="423" y="517" width="50" height="11"/><text class="nt" x="448" y="524">AIM::TwoDimensionPolyline</text></g>
<g id="n-2dmultipoint" class="n"><rect x="476" y="517" width="54" height="11"/><text class="nt" x="503" y="524">AIM::TwoDimensionMultiPoint</text></g>

<g id="n-imagereferenceentity" class="n"><rect x="257" y="547" width="76" height="27"/><line x1="257" y1="555" x2="333" y2="555"/><text class="nt" x="295" y="552.5">AIM::ImageReferenceEntity</text></g>
<g id="n-uriimagereference" class="n"><rect x="228" y="589" width="61" height="22"/><line x1="228" y1="597" x2="289" y2="597"/><text class="nt" x="258.5" y="594.5">AIM::UriImageReferenceEntity</text><text class="na"><tspan x="231" y="601.5">-  uri : ST</tspan><tspan x="231" y="606">-  mimeType : ST</tspan></text></g>
<g id="n-dicomimagereference" class="n"><rect x="296" y="589" width="67" height="23"/><line x1="296" y1="597" x2="363" y2="597"/><text class="nt" x="329.5" y="594.5">AIM::DicomImageReferenceEntity</text></g>
<g id="n-imagestudy" class="n"><rect x="464" y="578" width="68" height="33"/><line x1="464" y1="586" x2="532" y2="586"/><text class="nt" x="498" y="583.5">AIM::ImageStudy</text><text class="na"><tspan x="467" y="590.5">-  instanceUid : II</tspan><tspan x="467" y="595">-  startDate : TS</tspan><tspan x="467" y="599.5">-  startTime : TS</tspan><tspan x="467" y="604">-  procedureDescription : ST [0..1]</tspan></text></g>
<g id="n-imageseries" class="n"><rect x="484" y="630" width="39" height="28"/><line x1="484" y1="638" x2="523" y2="638"/><text class="nt" x="503.5" y="635.5">AIM::ImageSeries</text><text class="na"><tspan x="487" y="642.5">-  instanceUid : II</tspan><tspan x="487" y="647">-  modality : CD</tspan></text></g>
<g id="n-referenceddicomobject" class="n"><rect x="543" y="629" width="60" height="28"/><line x1="543" y1="637" x2="603" y2="637"/><text class="nt" x="573" y="634.5">AIM::ReferencedDicomObject</text><text class="na"><tspan x="546" y="641.5">-  modality : CD</tspan><tspan x="546" y="646">-  sopInstanceUid : II</tspan></text></g>
<g id="n-generalimage" class="n"><rect x="358" y="657" width="79" height="20"/><line x1="358" y1="665" x2="437" y2="665"/><text class="nt" x="397.5" y="662.5">AIM::GeneralImage</text><text class="na"><tspan x="361" y="669.5">-  patientOrientationColumn : ST [0..1]</tspan><tspan x="361" y="674">-  patientOrientationRow : ST [0..1]</tspan></text></g>
<g id="n-image" class="n"><rect x="479" y="675" width="58" height="24"/><line x1="479" y1="683" x2="537" y2="683"/><text class="nt" x="508" y="680.5">AIM::Image</text><text class="na"><tspan x="482" y="687.5">-  sopClassUid : II</tspan><tspan x="482" y="692">-  sopInstanceUid : II</tspan></text></g>
<g id="n-imageplane" class="n"><rect x="362" y="690" width="75" height="68"/><line x1="362" y1="698" x2="437" y2="698"/><text class="nt" x="399.5" y="695.5">AIM::ImagePlane</text><text class="na"><tspan x="365" y="702.5">-  rowImageOrientationX : REAL [0..1]</tspan><tspan x="365" y="707.1">-  rowImageOrientationY : REAL [0..1]</tspan><tspan x="365" y="711.7">-  rowImageOrientationZ : REAL [0..1]</tspan><tspan x="365" y="716.3">-  columnImageOrientationX : REAL [0..1]</tspan><tspan x="365" y="720.9">-  columnImageOrientationY : REAL [0..1]</tspan><tspan x="365" y="725.5">-  columnImageOrientationZ : REAL [0..1]</tspan><tspan x="365" y="730.1">-  verticalPixelSpacing : REAL [0..1]</tspan><tspan x="365" y="734.7">-  horizontalPixelSpacing : REAL [0..1]</tspan><tspan x="365" y="739.3">-  sliceThickness : REAL [0..1]</tspan><tspan x="365" y="743.9">-  imagePositionX : REAL [0..1]</tspan><tspan x="365" y="748.5">-  imagePositionY : REAL [0..1]</tspan><tspan x="365" y="753.1">-  imagePositionZ : REAL [0..1]</tspan></text></g>

<g id="n-algorithm" class="n"><rect x="1107" y="214" width="56" height="40"/><line x1="1107" y1="222" x2="1163" y2="222"/><text class="nt" x="1135" y="219.5">AIM::Algorithm</text><text class="na"><tspan x="1110" y="226.5">-  name : ST</tspan><tspan x="1110" y="231">-  type : CD [1..*] {ordered}</tspan><tspan x="1110" y="235.5">-  uniqueIdentifier : II [0..1]</tspan><tspan x="1110" y="240">-  version : ST [0..1]</tspan><tspan x="1110" y="244.5">-  description : ST [0..1]</tspan></text></g>
<g id="n-parameter" class="n"><rect x="1210" y="217" width="47" height="31"/><line x1="1210" y1="225" x2="1257" y2="225"/><text class="nt" x="1233.5" y="222.5">AIM::Parameter</text><text class="na"><tspan x="1213" y="229.5">-  name : ST</tspan><tspan x="1213" y="234">-  value : ST</tspan><tspan x="1213" y="238.5">-  dataType : CD</tspan></text></g>
<g id="n-calculationentity" class="n"><rect x="956" y="266" width="81" height="37"/><line x1="956" y1="274" x2="1037" y2="274"/><text class="nt" x="996.5" y="271.5">AIM::CalculationEntity</text><text class="na"><tspan x="959" y="278.5">-  typeCode : CD [1..*] {ordered}</tspan><tspan x="959" y="283">-  questionTypeCode : CD [0..*] {ordered}</tspan><tspan x="959" y="287.5">-  description : ST</tspan><tspan x="959" y="292">-  mathML : ST [0..1]</tspan><tspan x="959" y="296.5">-  questionIndex : INT [0..1]</tspan></text></g>
<g id="n-calculationresult" class="n"><rect x="1104" y="264" width="69" height="31"/><line x1="1104" y1="272" x2="1173" y2="272"/><text class="nt" x="1138.5" y="269.5">AIM::CalculationResult</text><text class="na"><tspan x="1107" y="276.5">-  type : CalculationResultIdentifier</tspan><tspan x="1107" y="281">-  unitOfMeasure : ST</tspan><tspan x="1107" y="285.5">-  dataType : CD</tspan></text></g>
<g id="n-dimension" class="n"><rect x="1234" y="267" width="37" height="30"/><line x1="1234" y1="275" x2="1271" y2="275"/><text class="nt" x="1252.5" y="272.5">AIM::Dimension</text><text class="na"><tspan x="1237" y="279.5">-  index : INT</tspan><tspan x="1237" y="284">-  size : INT</tspan><tspan x="1237" y="288.5">-  label : ST</tspan></text></g>
<g id="n-compactresult" class="n"><rect x="1075" y="312" width="57" height="30"/><line x1="1075" y1="320" x2="1132" y2="320"/><text class="nt" x="1103.5" y="317.5" textLength="54" lengthAdjust="spacingAndGlyphs">AIM::CompactCalculationResult</text><text class="na"><tspan x="1078" y="324.5">-  value : ST</tspan><tspan x="1078" y="329">-  encoding : CD [0..1]</tspan><tspan x="1078" y="333.5">-  compression : CD [0..1]</tspan></text></g>
<g id="n-extendedresult" class="n"><rect x="1136" y="312" width="59" height="28"/><line x1="1136" y1="320" x2="1195" y2="320"/><text class="nt" x="1165.5" y="317.5" textLength="56" lengthAdjust="spacingAndGlyphs">AIM::ExtendedCalculationResult</text></g>
<g id="n-calculationdata" class="n"><rect x="1246" y="312" width="42" height="28"/><line x1="1246" y1="320" x2="1288" y2="320"/><text class="nt" x="1267" y="317.5">AIM::CalculationData</text><text class="na"><tspan x="1249" y="324.5">-  value : ST</tspan></text></g>
<g id="n-coordinate" class="n"><rect x="1243" y="361" width="49" height="28"/><line x1="1243" y1="369" x2="1292" y2="369"/><text class="nt" x="1267.5" y="366.5">AIM::Coordinate</text><text class="na"><tspan x="1246" y="373.5">-  dimensionIndex : INT</tspan><tspan x="1246" y="378">-  position : INT</tspan></text></g>
<g id="n-imagingobservationentity" class="n"><rect x="1017" y="404" width="88" height="49"/><line x1="1017" y1="412" x2="1105" y2="412"/><text class="nt" x="1061" y="409.5">AIM::ImagingObservationEntity</text><text class="na"><tspan x="1020" y="416.5">-  typeCode : CD [1..*] {ordered}</tspan><tspan x="1020" y="421.1">-  questionTypeCode : CD [0..*] {ordered}</tspan><tspan x="1020" y="425.7">-  annotatorConfidence : REAL [0..1]</tspan><tspan x="1020" y="430.3">-  label : ST [0..1]</tspan><tspan x="1020" y="434.9">-  comment : ST [0..1]</tspan><tspan x="1020" y="439.5">-  isPresent : BL [0..1]</tspan><tspan x="1020" y="444.1">-  questionIndex : INT [0..1]</tspan></text></g>
<g id="n-imagingobservationcharacteristic" class="n"><rect x="1209" y="404" width="79" height="45"/><line x1="1209" y1="412" x2="1288" y2="412"/><text class="nt" x="1248.5" y="409.5" textLength="76" lengthAdjust="spacingAndGlyphs">AIM::ImagingObservationCharacteristic</text><text class="na"><tspan x="1212" y="416.5">-  typeCode : CD [1..*] {ordered}</tspan><tspan x="1212" y="421.1">-  questionTypeCode : CD [0..*] {ordered}</tspan><tspan x="1212" y="425.7">-  annotatorConfidence : REAL [0..1]</tspan><tspan x="1212" y="430.3">-  label : ST [0..1]</tspan><tspan x="1212" y="434.9">-  comment : ST [0..1]</tspan><tspan x="1212" y="439.5">-  questionIndex : INT [0..1]</tspan></text></g>

<g id="n-imagingphysicalentity" class="n"><rect x="984" y="511" width="76" height="45"/><line x1="984" y1="519" x2="1060" y2="519"/><text class="nt" x="1022" y="516.5">AIM::ImagingPhysicalEntity</text><text class="na"><tspan x="987" y="523.5">-  typeCode : CD [1..*] {ordered}</tspan><tspan x="987" y="528">-  questionTypeCode : CD [0..*] {ordered}</tspan><tspan x="987" y="532.5">-  annotatorConfidence : REAL [0..1]</tspan><tspan x="987" y="537">-  isPresent : BL [0..1]</tspan><tspan x="987" y="541.5">-  label : ST [0..1]</tspan><tspan x="987" y="546">-  questionIndex : INT [0..1]</tspan><tspan x="987" y="550.5">-  comment : ST [0..1]</tspan></text></g>
<g id="n-imagingphysicalentitycharacteristic" class="n"><rect x="1183" y="515" width="75" height="39"/><line x1="1183" y1="523" x2="1258" y2="523"/><text class="nt" x="1220.5" y="520.5" textLength="72" lengthAdjust="spacingAndGlyphs">AIM::ImagingPhysicalEntityCharacteristic</text><text class="na"><tspan x="1186" y="527.5">-  typeCode : CD [1..*] {ordered}</tspan><tspan x="1186" y="532">-  questionTypeCode : CD [0..*] {ordered}</tspan><tspan x="1186" y="536.5">-  annotatorConfidence : REAL [0..1]</tspan><tspan x="1186" y="541">-  label : ST [0..1]</tspan><tspan x="1186" y="545.5">-  questionIndex : INT [0..1]</tspan><tspan x="1186" y="550">-  comment : ST [0..1]</tspan></text></g>
<g id="n-characteristicquantification" class="n"><rect x="1140" y="587" width="132" height="41"/><line x1="1140" y1="595" x2="1272" y2="595"/><text class="nt" x="1206" y="592.5">AIM::CharacteristicQuantification</text><text class="na"><tspan x="1143" y="599.5">-  annotatorConfidence : REAL [0..1]</tspan><tspan x="1143" y="604">-  characteristicQuantificationIndex : INT</tspan><tspan x="1143" y="608.5">-  label : ST</tspan><tspan x="1143" y="613">-  valueLabel : ST</tspan><tspan x="1143" y="617.5">-  valueDescription : ST [0..1]</tspan><tspan x="1143" y="622">-  comment : ST [0..1]</tspan></text></g>
<g id="n-numerical" class="n"><rect x="1041" y="595" width="77" height="29"/><line x1="1041" y1="603" x2="1118" y2="603"/><text class="nt" x="1079.5" y="600.5">AIM::Numerical</text><text class="na"><tspan x="1044" y="607.5">-  value : REAL</tspan><tspan x="1044" y="612">-  ucumString : ST</tspan><tspan x="1044" y="616.5">-  operator : ComparisonOperator [0..1]</tspan></text></g>
<g id="n-quantile" class="n"><rect x="1081" y="639" width="39" height="29"/><line x1="1081" y1="647" x2="1120" y2="647"/><text class="nt" x="1100.5" y="644.5">AIM::Quantile</text><text class="na"><tspan x="1084" y="651.5">-  bins : INT</tspan><tspan x="1084" y="656">-  selectedBin : INT</tspan><tspan x="1084" y="660.5">-  minValue : REAL</tspan><tspan x="1084" y="665">-  maxValue : REAL</tspan></text></g>
<g id="n-nonquantifiable" class="n"><rect x="1127" y="659" width="46" height="24"/><line x1="1127" y1="667" x2="1173" y2="667"/><text class="nt" x="1150" y="664.5">AIM::NonQuantifiable</text><text class="na"><tspan x="1130" y="671.5">-  typeCode : CD</tspan></text></g>
<g id="n-scale" class="n"><rect x="1179" y="659" width="44" height="25"/><line x1="1179" y1="667" x2="1223" y2="667"/><text class="nt" x="1201" y="664.5">AIM::Scale</text><text class="na"><tspan x="1182" y="671.5">-  value : ST</tspan><tspan x="1182" y="676">-  scaleType : ScaleType</tspan></text></g>
<g id="n-interval" class="n"><rect x="1229" y="658" width="74" height="39"/><line x1="1229" y1="666" x2="1303" y2="666"/><text class="nt" x="1266" y="663.5">AIM::Interval</text><text class="na"><tspan x="1232" y="670.5">-  minValue : REAL</tspan><tspan x="1232" y="675">-  maxValue : REAL</tspan><tspan x="1232" y="679.5">-  minOperator : ComparisonOperator</tspan><tspan x="1232" y="684">-  maxOperator : ComparisonOperator</tspan><tspan x="1232" y="688.5">-  ucumString : ST</tspan></text></g>

<g id="overlays">
<text class="big" transform="translate(80,107) rotate(90)" x="0" y="0" font-size="50" textLength="458" lengthAdjust="spacingAndGlyphs">AIM Statement</text>
<text class="big" transform="translate(725,168) rotate(90)" x="0" y="0" font-size="52" textLength="234" lengthAdjust="spacingAndGlyphs">General</text>
<text class="big" transform="translate(650,168) rotate(90)" x="0" y="0" font-size="52" textLength="354" lengthAdjust="spacingAndGlyphs">Information</text>
<text class="big" x="291" y="403" font-size="47" textLength="221" lengthAdjust="spacingAndGlyphs">Markup</text>
<text class="big" x="962" y="382" font-size="46" textLength="331" lengthAdjust="spacingAndGlyphs">Calculation</text>
<text class="big" x="997" y="555" font-size="44" textLength="158" lengthAdjust="spacingAndGlyphs">Image</text>
<text class="big" x="997" y="619" font-size="42" textLength="243" lengthAdjust="spacingAndGlyphs">Semantic</text>
<text class="big" x="997" y="683" font-size="45" textLength="200" lengthAdjust="spacingAndGlyphs">Content</text>
<text class="big" x="250" y="637" font-size="48" textLength="185" lengthAdjust="spacingAndGlyphs">Image</text>
<text class="big" x="250" y="713" font-size="51" textLength="310" lengthAdjust="spacingAndGlyphs">Reference</text>
<text x="842" y="62" font-family="DejaVu Sans, Liberation Sans, sans-serif" font-weight="bold" font-size="57" fill="#1e1e1e" textLength="455" lengthAdjust="spacingAndGlyphs">The AIM Model</text>
</g>
</svg>
